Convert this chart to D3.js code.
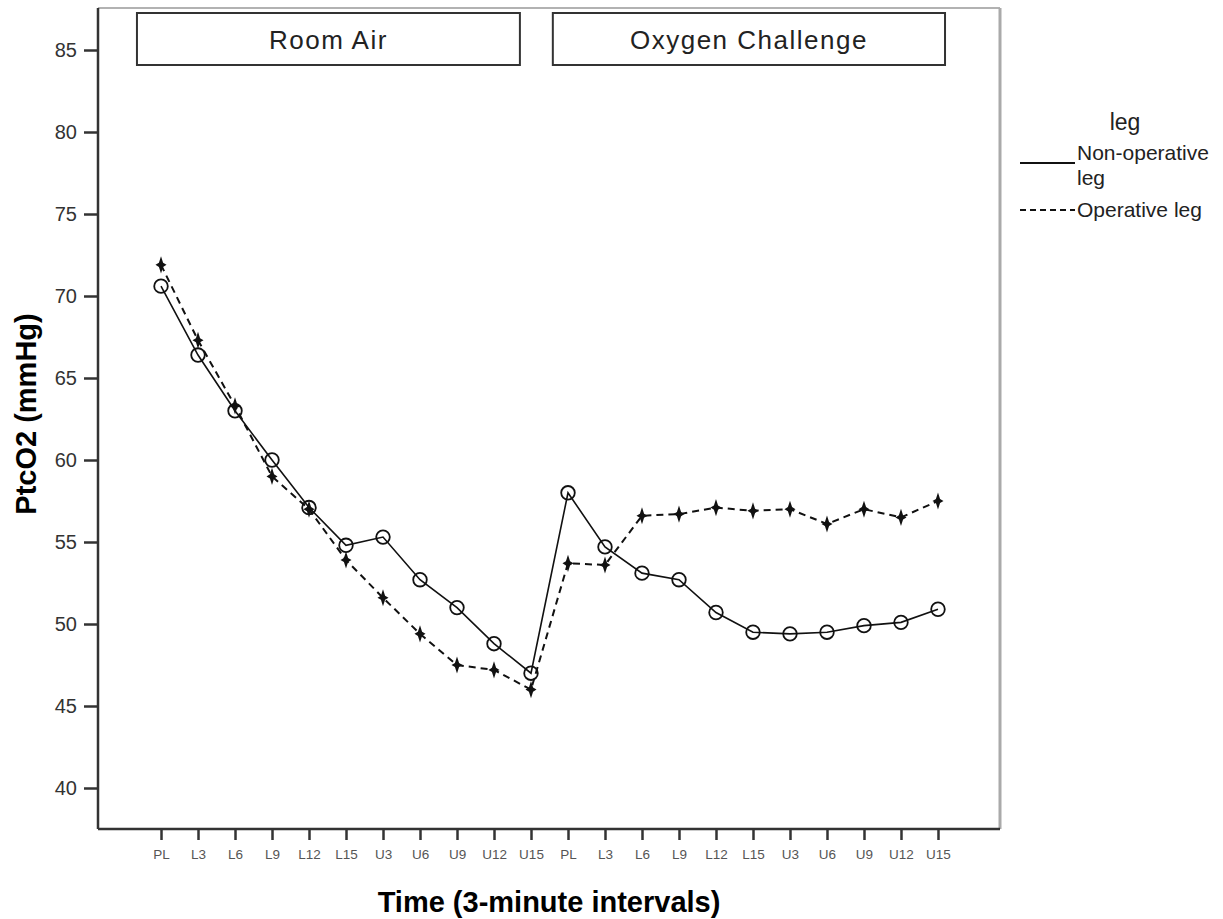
<!DOCTYPE html>
<html>
<head>
<meta charset="utf-8">
<script src="https://cdn.jsdelivr.net/npm/d3@7"></script>
<style>
  body { margin: 0; background: #fff; }
  svg { font-family: "Liberation Sans", Arial, sans-serif; }
</style>
</head>
<body>
<div id="graph"></div>
<script>
// time points, room air then oxygen challenge
let timeLabels = ["PL", "L3", "L6", "L9", "L12", "L15", "U3", "U6", "U9", "U12", "U15",
  "PL", "L3", "L6", "L9", "L12", "L15", "U3", "U6", "U9", "U12", "U15"];
// PtcO2 (mmHg) per leg
let nonOperative = [70.6, 66.4, 63.0, 60.0, 57.1, 54.8, 55.3, 52.7, 51.0, 48.8, 47.0,
  58.0, 54.7, 53.1, 52.7, 50.7, 49.5, 49.4, 49.5, 49.9, 50.1, 50.9];
let operative = [71.9, 67.3, 63.3, 59.0, 57.0, 53.9, 51.6, 49.4, 47.5, 47.2, 46.0,
  53.7, 53.6, 56.6, 56.7, 57.1, 56.9, 57.0, 56.1, 57.0, 56.5, 57.5];
let yTicks = [40, 45, 50, 55, 60, 65, 70, 75, 80, 85];
let phaseNames = ["Room Air", "Oxygen Challenge"];
let legendNames = ["Non-operative leg", "Operative leg"];

let svg = d3.select("#graph").append("svg").attr("width", 1223).attr("height", 919);

// plot area edges
let pLeft = 98, pRight = 1000, pTop = 8, pBottom = 829;

let x = d3.scaleLinear().domain([-1.703, 22.676]).range([pLeft, pRight]);
let y = d3.scaleLinear().domain([37.5, 87.5]).range([pBottom, pTop + 1]);

// frame (top/right gray)
svg.append("line").attr("x1", pLeft).attr("x2", pRight).attr("y1", pTop).attr("y2", pTop)
  .attr("stroke", "#999").attr("stroke-width", 1.5);
svg.append("line").attr("x1", pRight).attr("x2", pRight).attr("y1", pTop).attr("y2", pBottom)
  .attr("stroke", "#aaa").attr("stroke-width", 3);

// y axis
let yAxis = svg.append("g").attr("transform", "translate(" + pLeft + ",0)")
  .call(d3.axisLeft(y).tickValues(yTicks).tickSize(14).tickSizeOuter(0).tickPadding(7));
yAxis.select(".domain").attr("stroke", "#333").attr("stroke-width", 2.5)
  .attr("d", "M0," + pTop + "V" + pBottom);
yAxis.selectAll(".tick line").attr("stroke", "#333").attr("stroke-width", 2.5);
yAxis.selectAll("text").style("font-size", "20px").attr("fill", "#333");

// x axis
let xAxis = svg.append("g").attr("transform", "translate(0," + pBottom + ")")
  .call(d3.axisBottom(x).tickValues(d3.range(timeLabels.length))
    .tickFormat((d) => timeLabels[d]).tickSize(11).tickSizeOuter(0).tickPadding(9));
xAxis.select(".domain").attr("stroke", "#333").attr("stroke-width", 2.5)
  .attr("d", "M" + pLeft + ",0H" + pRight);
xAxis.selectAll(".tick line").attr("stroke", "#333").attr("stroke-width", 2.5);
xAxis.selectAll("text").style("font-size", "13.5px").attr("fill", "#555");

// axis titles
svg.append("text").attr("transform", "translate(36,414) rotate(-90)")
  .attr("text-anchor", "middle").style("font-size", "29px").style("font-weight", "bold")
  .text("PtcO2 (mmHg)");
svg.append("text").attr("x", 549).attr("y", 912).attr("text-anchor", "middle")
  .style("font-size", "29px").style("font-weight", "bold")
  .text("Time (3-minute intervals)");

// phase header boxes
let boxes = [[-0.65, 9.7], [10.59, 21.19]];
boxes.forEach(function (b, i) {
  svg.append("rect").attr("x", x(b[0])).attr("y", 13)
    .attr("width", x(b[1]) - x(b[0])).attr("height", 52)
    .attr("fill", "none").attr("stroke", "#333").attr("stroke-width", 2);
  svg.append("text").attr("x", (x(b[0]) + x(b[1])) / 2).attr("y", 49)
    .attr("text-anchor", "middle").style("font-size", "26px").style("letter-spacing", "1.5px")
    .attr("fill", "#222").text(phaseNames[i]);
});

// lines
let line = d3.line().x((d, i) => x(i)).y((d) => y(d));
svg.append("path").datum(operative).attr("d", line).attr("fill", "none")
  .attr("stroke", "#111").attr("stroke-width", 2).attr("stroke-dasharray", "7,5");
svg.append("path").datum(nonOperative).attr("d", line).attr("fill", "none")
  .attr("stroke", "#111").attr("stroke-width", 1.6);

// 4-point star marker
let star4 = {
  draw: function (context, size) {
    let r = Math.sqrt(size);
    let h = r * 0.7, w = r * 0.45, k = r * 0.17;
    context.moveTo(0, -h);
    context.lineTo(k, -k);
    context.lineTo(w, 0);
    context.lineTo(k, k);
    context.lineTo(0, h);
    context.lineTo(-k, k);
    context.lineTo(-w, 0);
    context.lineTo(-k, -k);
    context.closePath();
  }
};
svg.append("g").selectAll("path").data(operative).enter().append("path")
  .attr("transform", (d, i) => "translate(" + x(i) + "," + y(d) + ")")
  .attr("d", d3.symbol().type(star4).size(150)).attr("fill", "#111");

svg.append("g").selectAll("circle").data(nonOperative).enter().append("circle")
  .attr("cx", (d, i) => x(i)).attr("cy", (d) => y(d)).attr("r", 6.8)
  .attr("fill", "none").attr("stroke", "#111").attr("stroke-width", 1.8);

// legend
svg.append("text").attr("x", 1125).attr("y", 130).attr("text-anchor", "middle")
  .style("font-size", "23px").attr("fill", "#222").text("leg");
svg.append("line").attr("x1", 1020).attr("x2", 1075).attr("y1", 163).attr("y2", 163)
  .attr("stroke", "#111").attr("stroke-width", 2);
svg.append("text").attr("x", 1077).attr("y", 160).style("font-size", "21px").attr("fill", "#222")
  .text("Non-operative");
svg.append("text").attr("x", 1077).attr("y", 185).style("font-size", "21px").attr("fill", "#222")
  .text("leg");
svg.append("line").attr("x1", 1020).attr("x2", 1075).attr("y1", 210).attr("y2", 210)
  .attr("stroke", "#111").attr("stroke-width", 2).attr("stroke-dasharray", "6,4");
svg.append("text").attr("x", 1077).attr("y", 217).style("font-size", "21px").attr("fill", "#222")
  .text(legendNames[1]);
</script>
</body>
</html>
